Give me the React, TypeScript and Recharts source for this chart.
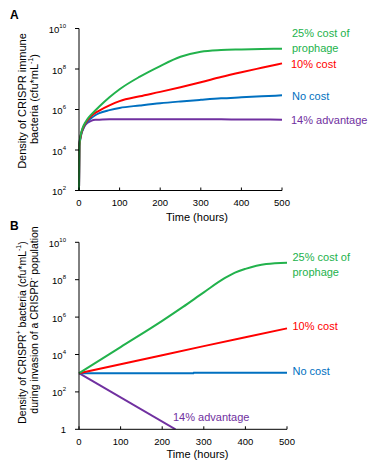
import React from 'react';
import { LineChart, Line, XAxis, YAxis } from 'recharts';

// Panel A: density of CRISPR immune bacteria (cfu/mL), log scale
const timesA = [0, 1, 3, 6, 10, 15, 20, 30, 40, 50, 75, 100, 150, 200, 250, 300, 350, 400, 450, 500];
const greenA = [1e2, 1.6e4, 4e4, 8e4, 1.4e5, 2.2e5, 3.2e5, 5.6e5, 8.9e5, 1.4e6, 4e6, 1e7, 4.2e7, 1.4e8, 4e8, 7.2e8, 8.7e8, 9.3e8, 9.8e8, 1e9];
const redA = [1e2, 1.6e4, 3.5e4, 7.1e4, 1.26e5, 2e5, 2.8e5, 4.8e5, 6.8e5, 8.9e5, 1.6e6, 2.6e6, 4.5e6, 7.4e6, 1.26e7, 2.2e7, 4e7, 6.9e7, 1.15e8, 1.9e8];
const blueA = [1e2, 1.6e4, 3.2e4, 6.3e4, 1.12e5, 1.78e5, 2.4e5, 3.7e5, 5.2e5, 6.6e5, 9.3e5, 1.2e6, 1.58e6, 2.04e6, 2.5e6, 3e6, 3.55e6, 4e6, 4.5e6, 5e6];
const purpleA = [1e2, 2e4, 4e4, 7.1e4, 1.05e5, 1.66e5, 2.14e5, 2.75e5, 3.1e5, 3.16e5, 3.3e5, 3.3e5, 3.3e5, 3.3e5, 3.3e5, 3.3e5, 3.3e5, 3.2e5, 3.2e5, 3.16e5];

// Panel B: CRISPR+ invading a CRISPR- population
const greenBTimes = [0, 100, 200, 250, 300, 350, 375, 400, 450, 500];
const greenB = [1e3, 2.5e4, 6.3e5, 3.5e6, 2.1e7, 1.2e8, 2.4e8, 3.8e8, 6.9e8, 8.1e8];
const redBTimes = [0, 100, 200, 300, 400, 500];
const redB = [1e3, 3e3, 9.1e3, 2.8e4, 8.3e4, 2.5e5];
const blueBTimes = [0, 275, 276, 500];
const blueB = [1e3, 1e3, 1.07e3, 1.07e3];
const purpleBTimes = [0, 232];
const purpleB = [1e3, 1];

const xTicks = [0, 100, 200, 300, 400, 500];
const yTicksA = [1e2, 1e4, 1e6, 1e8, 1e10];
const yTicksB = [1, 1e2, 1e4, 1e6, 1e8, 1e10];

const GREEN = '#22b24c';
const RED = '#ff0000';
const BLUE = '#0070c0';
const PURPLE = '#7030a0';
const FONT = '"Liberation Sans", Arial, sans-serif';

const dataA = timesA.map((t, i) => ({ t, green: greenA[i], red: redA[i], blue: blueA[i], purple: purpleA[i] }));
const toPts = (ts: number[], vs: number[]) => ts.map((t, i) => ({ t, v: vs[i] }));

const XTick = (props: any) => {
  const { x, y, payload } = props;
  return (
    <g>
      <line x1={x} x2={x} y1={y} y2={y - 3} stroke="#000" strokeWidth={1} />
      <text x={x} y={y + 12} textAnchor="middle" dominantBaseline="central" fontSize={9.5} fontFamily={FONT} fill="#000">
        {payload.value}
      </text>
    </g>
  );
};

const YTick = (props: any) => {
  const { x, y, payload } = props;
  const exp = Math.round(Math.log10(payload.value));
  if (exp === 0) {
    return (
      <text x={x - 9} y={y} textAnchor="end" dominantBaseline="central" fontSize={9.5} fontFamily={FONT} fill="#000">1</text>
    );
  }
  return (
    <text x={x - 9} y={y + 1} textAnchor="end" dominantBaseline="central" fontSize={9.5} fontFamily={FONT} fill="#000">
      10<tspan dy={-3.5} fontSize={6}>{exp}</tspan>
    </text>
  );
};

const Label = ({ x, y, color, children, anchor = 'start' }: any) => (
  <text x={x} y={y} fill={color} fontSize={11} fontFamily={FONT} dominantBaseline="central" textAnchor={anchor}>
    {children}
  </text>
);

export default function App() {
  return (
    <div style={{ position: 'absolute', left: 0, top: 0, width: 368, height: 461, background: '#fff', fontFamily: FONT }}>
      <div style={{ position: 'absolute', left: 0, top: 0 }}>
        <LineChart width={368} height={228} data={dataA} margin={{ top: 28.5, right: 86, left: 39, bottom: 17.5 }}>
          <XAxis dataKey="t" type="number" domain={[0, 500]} ticks={xTicks} tickSize={0} tickMargin={0}
            tick={<XTick />} stroke="#000" height={20} />
          <YAxis type="number" scale="log" domain={[1e2, 1e10]} ticks={yTicksA} allowDataOverflow
            tickSize={4} tickMargin={0} tick={<YTick />} stroke="#000" width={40} />
          <Line type="monotone" dataKey="purple" stroke={PURPLE} strokeWidth={2} dot={false} isAnimationActive={false} />
          <Line type="monotone" dataKey="blue" stroke={BLUE} strokeWidth={2} dot={false} isAnimationActive={false} />
          <Line type="monotone" dataKey="red" stroke={RED} strokeWidth={2} dot={false} isAnimationActive={false} />
          <Line type="monotone" dataKey="green" stroke={GREEN} strokeWidth={2} dot={false} isAnimationActive={false} />
        </LineChart>
      </div>
      <div style={{ position: 'absolute', left: 0, top: 230 }}>
        <LineChart width={368} height={231} margin={{ top: 12.3, right: 81, left: 39, bottom: 11.7 }}>
          <XAxis dataKey="t" type="number" domain={[0, 500]} ticks={xTicks} tickSize={0} tickMargin={0}
            tick={<XTick />} stroke="#000" height={20} allowDuplicatedCategory={false} />
          <YAxis type="number" scale="log" domain={[1, 1e10]} ticks={yTicksB} allowDataOverflow
            tickSize={4} tickMargin={0} tick={<YTick />} stroke="#000" width={40} />
          <Line data={toPts(purpleBTimes, purpleB)} dataKey="v" stroke={PURPLE} strokeWidth={2} dot={false} isAnimationActive={false} />
          <Line data={toPts(blueBTimes, blueB)} dataKey="v" stroke={BLUE} strokeWidth={2} dot={false} isAnimationActive={false} />
          <Line data={toPts(redBTimes, redB)} dataKey="v" stroke={RED} strokeWidth={2} dot={false} isAnimationActive={false} />
          <Line type="monotone" data={toPts(greenBTimes, greenB)} dataKey="v" stroke={GREEN} strokeWidth={2} dot={false} isAnimationActive={false} />
        </LineChart>
      </div>
      <svg width={368} height={461} style={{ position: 'absolute', left: 0, top: 0, pointerEvents: 'none' }}>
        <text x={10} y={14.5} fontSize={12} fontWeight="bold" fontFamily={FONT} dominantBaseline="central">A</text>
        <text x={10} y={226} fontSize={12} fontWeight="bold" fontFamily={FONT} dominantBaseline="central">B</text>

        <Label x={292} y={33} color={GREEN}>25% cost of</Label>
        <Label x={292} y={47.5} color={GREEN}>prophage</Label>
        <Label x={291} y={64} color={RED}>10% cost</Label>
        <Label x={292} y={95.5} color={BLUE}>No cost</Label>
        <Label x={291} y={120} color={PURPLE}>14% advantage</Label>

        <Label x={292.5} y={257.3} color={GREEN}>25% cost of</Label>
        <Label x={292.5} y={272.3} color={GREEN}>prophage</Label>
        <Label x={292.5} y={326} color={RED}>10% cost</Label>
        <Label x={292.5} y={371} color={BLUE}>No cost</Label>
        <Label x={173} y={416.7} color={PURPLE}>14% advantage</Label>

        <text x={197} y={216.7} textAnchor="middle" dominantBaseline="central" fontSize={11} fontFamily={FONT}>Time (hours)</text>
        <text x={197.5} y={454.3} textAnchor="middle" dominantBaseline="central" fontSize={11} fontFamily={FONT}>Time (hours)</text>

        <text transform="translate(21.7,101) rotate(-90)" textAnchor="middle" dominantBaseline="central" fontSize={11} fontFamily={FONT}>
          Density of CRISPR immune
        </text>
        <text transform="translate(34.3,99) rotate(-90)" textAnchor="middle" dominantBaseline="central" fontSize={11} fontFamily={FONT}>
          bacteria (cfu*mL<tspan dy={-4} fontSize={7}>-1</tspan><tspan dy={4}>)</tspan>
        </text>
        <text transform="translate(21.7,332.5) rotate(-90)" textAnchor="middle" dominantBaseline="central" fontSize={10.5} fontFamily={FONT}>
          Density of CRISPR<tspan dy={-4} fontSize={7}>+</tspan><tspan dy={4}> bacteria (cfu*mL</tspan><tspan dy={-4} fontSize={7}>-1</tspan><tspan dy={4}>)</tspan>
        </text>
        <text transform="translate(34.3,320) rotate(-90)" textAnchor="middle" dominantBaseline="central" fontSize={10.5} fontFamily={FONT}>
          during invasion of a CRISPR<tspan dy={-4} fontSize={7}>-</tspan><tspan dy={4}> population</tspan>
        </text>
      </svg>
    </div>
  );
}
